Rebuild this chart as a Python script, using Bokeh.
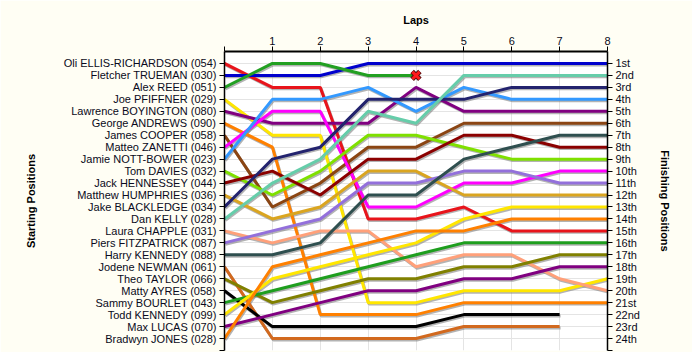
from bokeh.plotting import figure
from bokeh.models import Range1d, LinearAxis, FixedTicker
from bokeh.embed import file_html
from bokeh.resources import INLINE

# ---- data ----
laps = [0, 1, 2, 3, 4, 5, 6, 7, 8]
lap_labels = ["", "1", "2", "3", "4", "5", "6", "7", "8"]

drivers = [
    "Oli ELLIS-RICHARDSON", "Fletcher TRUEMAN", "Alex REED", "Joe PFIFFNER",
    "Lawrence BOYINGTON", "George ANDREWS", "James COOPER", "Matteo ZANETTI",
    "Jamie NOTT-BOWER", "Tom DAVIES", "Jack HENNESSEY", "Matthew HUMPHRIES",
    "Jake BLACKLEDGE", "Dan KELLY", "Laura CHAPPLE", "Piers FITZPATRICK",
    "Harry KENNEDY", "Jodene NEWMAN", "Theo TAYLOR", "Matty AYRES",
    "Sammy BOURLET", "Todd KENNEDY", "Max LUCAS", "Bradwyn JONES",
]
numbers = ["054", "030", "051", "029", "080", "090", "058", "046", "023", "032",
           "044", "036", "034", "028", "031", "087", "088", "061", "066", "058",
           "043", "099", "070", "028"]
colors = ["#E8141B", "#0000CD", "#22A022", "#FFE600", "#800080", "#FF8000",
          "#8B4513", "#FF00FF", "#3399FF", "#7FE000", "#8B0000", "#DAA520",
          "#23236E", "#66CDAA", "#FFA07A", "#9370DB", "#2F4F4F", "#D2691E",
          "#808000", "#000000", "#1E9E1E", "#FFE600", "#800080", "#FF8000"]

# position of each driver at the end of each lap (lap 0 = grid)
positions = [
    [1, 3, 3, 14, 14, 13, 15, 15, 15],
    [2, 2, 2, 1, 1, 1, 1, 1, 1],
    [3, 1, 1, 2, 2],
    [4, 7, 7, 21, 21, 20, 20, 20, 19],
    [5, 6, 6, 6, 3, 5, 5, 5, 5],
    [6, 8, 22, 22, 22, 21, 21, 21, 21],
    [7, 13, 11, 8, 8, 6, 6, 6, 6],
    [8, 5, 5, 13, 13, 11, 11, 10, 10],
    [9, 4, 4, 3, 5, 3, 4, 4, 4],
    [10, 12, 10, 7, 7, 8, 9, 9, 9],
    [11, 10, 12, 9, 9, 7, 7, 8, 8],
    [12, 14, 13, 10, 10, 12, 12, 12, 12],
    [13, 9, 8, 4, 4, 4, 3, 3, 3],
    [14, 11, 9, 5, 6, 2, 2, 2, 2],
    [15, 16, 15, 15, 18, 17, 17, 19, 20],
    [16, 15, 14, 11, 11, 10, 10, 11, 11],
    [17, 17, 16, 12, 12, 9, 8, 7, 7],
    [18, 24, 24, 24, 24, 23, 23, 23],
    [19, 21, 20, 19, 19, 18, 18, 17, 17],
    [20, 23, 23, 23, 23, 22, 22, 22],
    [21, 20, 19, 18, 17, 16, 16, 16, 16],
    [22, 19, 18, 17, 16, 14, 13, 13, 13],
    [23, 22, 21, 20, 20, 19, 19, 18, 18],
    [24, 18, 17, 16, 15, 15, 14, 14, 14],
]
retired = [2]  # driver index that retired (marked with a cross)

finish_labels = ["1st", "2nd", "3rd", "4th", "5th", "6th", "7th", "8th", "9th",
                 "10th", "11th", "12th", "13th", "14th", "15th", "16th", "17th",
                 "18th", "19th", "20th", "21st", "22nd", "23rd", "24th"]

n = len(drivers)
FONT = "Liberation Sans"
BG = "#FFFEF4"

p = figure(frame_width=383, frame_height=299,
           min_border_left=224, min_border_right=85, min_border_top=51,
           min_border_bottom=2,
           x_range=Range1d(0, 8), y_range=Range1d(n + 1, 0),
           x_axis_location="above", y_axis_location="left",
           output_backend="svg", toolbar_location=None,
           background_fill_color="white", border_fill_color=BG)
p.outline_line_color = None

# grid
p.xgrid.ticker = FixedTicker(ticks=laps[1:-1])
p.ygrid.ticker = FixedTicker(ticks=list(range(1, n + 1)))
for g in (p.xgrid[0], p.ygrid[0]):
    g.grid_line_color = "#E4E4E4"
    g.grid_line_width = 1

# shadows then lines
for i in range(n):
    ys = positions[i]
    xs = laps[:len(ys)]
    p.line([x + 0.02 for x in xs], [y + 0.12 for y in ys],
           line_color="#808080", line_alpha=0.6, line_width=3)
for i in range(n):
    ys = positions[i]
    xs = laps[:len(ys)]
    p.line(xs, ys, line_color=colors[i], line_width=3)

for i in retired:
    xr = laps[len(positions[i]) - 1]
    yr = positions[i][-1]
    p.scatter([xr], [yr], marker="x", size=11, line_color="#5A1010", line_width=5)
    p.scatter([xr], [yr], marker="x", size=10, line_color="#FF1A1A", line_width=3)

# top axis (laps)
xa = p.xaxis[0]
xa.ticker = FixedTicker(ticks=laps)
xa.major_label_overrides = {laps[k]: lap_labels[k] for k in range(len(laps))}
xa.axis_label = "Laps"

# left axis (starting positions)
ya = p.yaxis[0]
ya.ticker = FixedTicker(ticks=list(range(1, n + 2)))
ov = {i + 1: f"{drivers[i]} ({numbers[i]})" for i in range(n)}
ov[n + 1] = ""
ya.major_label_overrides = ov
ya.axis_label = "Starting Positions"

# right axis (finishing positions)
ra = LinearAxis(y_range_name="default", ticker=FixedTicker(ticks=list(range(1, n + 2))))
ov2 = {i + 1: finish_labels[i] for i in range(n)}
ov2[n + 1] = ""
ra.major_label_overrides = ov2
ra.axis_label = "Finishing Positions"
p.add_layout(ra, "right")

for ax in (xa, ya, ra):
    ax.major_label_text_font = FONT
    ax.major_label_text_font_size = "11px"
    ax.major_label_text_color = "#0A0A20"
    ax.axis_label_text_font = FONT
    ax.axis_label_text_font_size = "11px"
    ax.axis_label_text_font_style = "bold"
    ax.axis_label_text_color = "black"
    ax.axis_line_color = "black"
    ax.major_tick_line_color = "black"
    ax.major_tick_out = 5
    ax.major_tick_in = 0
    ax.minor_tick_line_color = None
    ax.major_label_standoff = 3

ya.axis_label_standoff = 24
ra.axis_label_standoff = 16
xa.axis_line_width = 2
xa.axis_label_standoff = 8
xa.major_label_standoff = 2
ya.axis_line_width = 1.5
ra.axis_line_width = 1.5

open("out.html", "w").write(file_html(p, INLINE))
